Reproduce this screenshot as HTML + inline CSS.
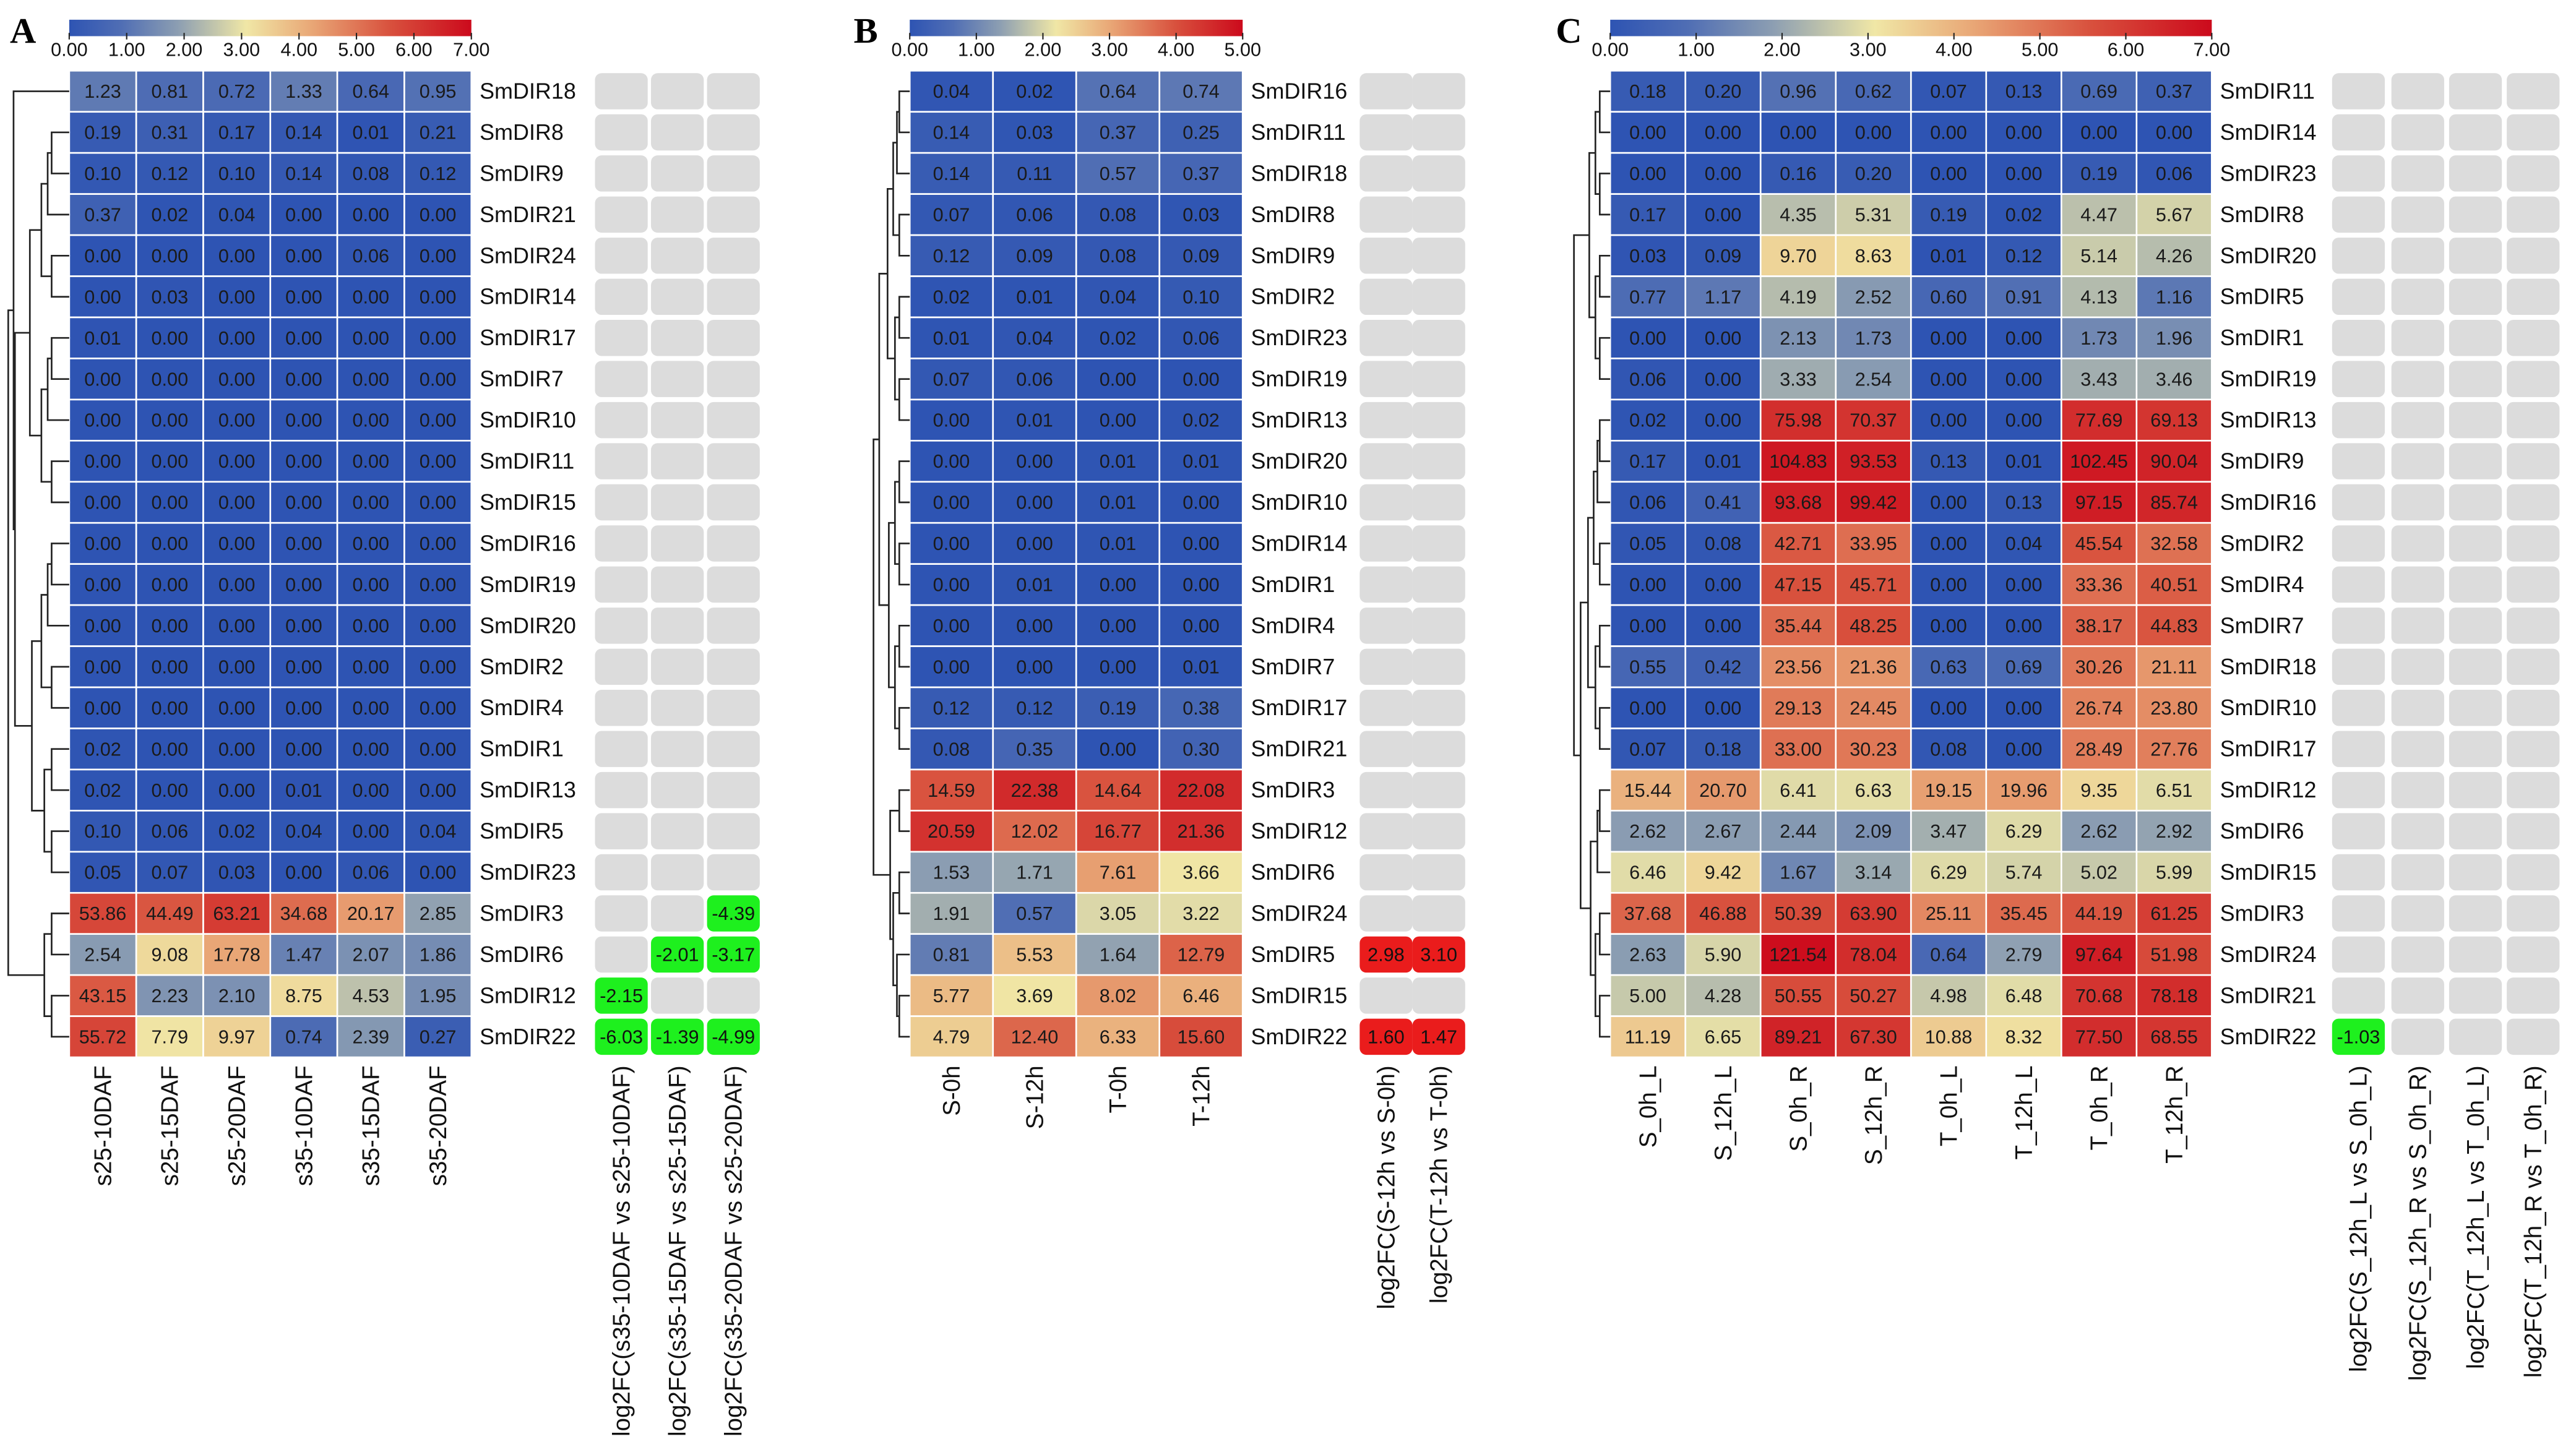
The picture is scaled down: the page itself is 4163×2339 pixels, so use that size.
<!DOCTYPE html>
<html><head><meta charset="utf-8"><style>
html,body{margin:0;padding:0;background:#fff;}
svg{display:block;font-family:"Liberation Sans",Arial,sans-serif;}
</style></head><body>
<svg id="fig" xmlns="http://www.w3.org/2000/svg" width="4163" height="2339" viewBox="0 0 1563 880" preserveAspectRatio="none">
<defs></defs>
</svg>
<script>
// ---------- Panel A data ----------
const genesA=["SmDIR18","SmDIR8","SmDIR9","SmDIR21","SmDIR24","SmDIR14","SmDIR17","SmDIR7","SmDIR10","SmDIR11","SmDIR15","SmDIR16","SmDIR19","SmDIR20","SmDIR2","SmDIR4","SmDIR1","SmDIR13","SmDIR5","SmDIR23","SmDIR3","SmDIR6","SmDIR12","SmDIR22"];
const colsA=["s25-10DAF","s25-15DAF","s25-20DAF","s35-10DAF","s35-15DAF","s35-20DAF"];
const valsA=[
[1.23,0.81,0.72,1.33,0.64,0.95],[0.19,0.31,0.17,0.14,0.01,0.21],[0.10,0.12,0.10,0.14,0.08,0.12],[0.37,0.02,0.04,0,0,0],
[0,0,0,0,0.06,0],[0,0.03,0,0,0,0],[0.01,0,0,0,0,0],[0,0,0,0,0,0],[0,0,0,0,0,0],[0,0,0,0,0,0],[0,0,0,0,0,0],[0,0,0,0,0,0],
[0,0,0,0,0,0],[0,0,0,0,0,0],[0,0,0,0,0,0],[0,0,0,0,0,0],[0.02,0,0,0,0,0],[0.02,0,0,0.01,0,0],[0.10,0.06,0.02,0.04,0,0.04],
[0.05,0.07,0.03,0,0.06,0],[53.86,44.49,63.21,34.68,20.17,2.85],[2.54,9.08,17.78,1.47,2.07,1.86],[43.15,2.23,2.10,8.75,4.53,1.95],[55.72,7.79,9.97,0.74,2.39,0.27]];
const fcColsA=["log2FC(s35-10DAF vs s25-10DAF)","log2FC(s35-15DAF vs s25-15DAF)","log2FC(s35-20DAF vs s25-20DAF)"];
const fcA={20:[null,null,-4.39],21:[null,-2.01,-3.17],22:[-2.15,null,null],23:[-6.03,-1.39,-4.99]};
const ticksA=["0.00","1.00","2.00","3.00","4.00","5.00","6.00","7.00"];
// ---------- Panel B data ----------
const genesB=["SmDIR16","SmDIR11","SmDIR18","SmDIR8","SmDIR9","SmDIR2","SmDIR23","SmDIR19","SmDIR13","SmDIR20","SmDIR10","SmDIR14","SmDIR1","SmDIR4","SmDIR7","SmDIR17","SmDIR21","SmDIR3","SmDIR12","SmDIR6","SmDIR24","SmDIR5","SmDIR15","SmDIR22"];
const colsB=["S-0h","S-12h","T-0h","T-12h"];
const valsB=[[0.04,0.02,0.64,0.74],[0.14,0.03,0.37,0.25],[0.14,0.11,0.57,0.37],[0.07,0.06,0.08,0.03],[0.12,0.09,0.08,0.09],
[0.02,0.01,0.04,0.10],[0.01,0.04,0.02,0.06],[0.07,0.06,0,0],[0,0.01,0,0.02],[0,0,0.01,0.01],[0,0,0.01,0],[0,0,0.01,0],
[0,0.01,0,0],[0,0,0,0],[0,0,0,0.01],[0.12,0.12,0.19,0.38],[0.08,0.35,0,0.30],[14.59,22.38,14.64,22.08],[20.59,12.02,16.77,21.36],
[1.53,1.71,7.61,3.66],[1.91,0.57,3.05,3.22],[0.81,5.53,1.64,12.79],[5.77,3.69,8.02,6.46],[4.79,12.40,6.33,15.60]];
const fcColsB=["log2FC(S-12h vs S-0h)","log2FC(T-12h vs T-0h)"];
const fcB={21:[2.98,3.10],23:[1.60,1.47]};
const ticksB=["0.00","1.00","2.00","3.00","4.00","5.00"];
// ---------- Panel C data ----------
const genesC=["SmDIR11","SmDIR14","SmDIR23","SmDIR8","SmDIR20","SmDIR5","SmDIR1","SmDIR19","SmDIR13","SmDIR9","SmDIR16","SmDIR2","SmDIR4","SmDIR7","SmDIR18","SmDIR10","SmDIR17","SmDIR12","SmDIR6","SmDIR15","SmDIR3","SmDIR24","SmDIR21","SmDIR22"];
const colsC=["S_0h_L","S_12h_L","S_0h_R","S_12h_R","T_0h_L","T_12h_L","T_0h_R","T_12h_R"];
const valsC=[[0.18,0.20,0.96,0.62,0.07,0.13,0.69,0.37],[0,0,0,0,0,0,0,0],[0,0,0.16,0.20,0,0,0.19,0.06],
[0.17,0,4.35,5.31,0.19,0.02,4.47,5.67],[0.03,0.09,9.70,8.63,0.01,0.12,5.14,4.26],[0.77,1.17,4.19,2.52,0.60,0.91,4.13,1.16],
[0,0,2.13,1.73,0,0,1.73,1.96],[0.06,0,3.33,2.54,0,0,3.43,3.46],[0.02,0,75.98,70.37,0,0,77.69,69.13],
[0.17,0.01,104.83,93.53,0.13,0.01,102.45,90.04],[0.06,0.41,93.68,99.42,0,0.13,97.15,85.74],[0.05,0.08,42.71,33.95,0,0.04,45.54,32.58],
[0,0,47.15,45.71,0,0,33.36,40.51],[0,0,35.44,48.25,0,0,38.17,44.83],[0.55,0.42,23.56,21.36,0.63,0.69,30.26,21.11],
[0,0,29.13,24.45,0,0,26.74,23.80],[0.07,0.18,33.00,30.23,0.08,0,28.49,27.76],[15.44,20.70,6.41,6.63,19.15,19.96,9.35,6.51],
[2.62,2.67,2.44,2.09,3.47,6.29,2.62,2.92],[6.46,9.42,1.67,3.14,6.29,5.74,5.02,5.99],[37.68,46.88,50.39,63.90,25.11,35.45,44.19,61.25],
[2.63,5.90,121.54,78.04,0.64,2.79,97.64,51.98],[5.00,4.28,50.55,50.27,4.98,6.48,70.68,78.18],[11.19,6.65,89.21,67.30,10.88,8.32,77.50,68.55]];
const fcColsC=["log2FC(S_12h_L vs S_0h_L)","log2FC(S_12h_R vs S_0h_R)","log2FC(T_12h_L vs T_0h_L)","log2FC(T_12h_R vs T_0h_R)"];
const fcC={23:[-1.03,null,null,null]};
const ticksC=["0.00","1.00","2.00","3.00","4.00","5.00","6.00","7.00"];

const NS="http://www.w3.org/2000/svg";
const svg=document.getElementById('fig');
function mk(tag,attrs,parent){const e=document.createElementNS(NS,tag);for(const k in attrs)e.setAttribute(k,attrs[k]);(parent||svg).appendChild(e);return e;}
const stops=[[0,[46,84,179]],[0.13,[80,110,180]],[0.27,[140,158,178]],[0.44,[240,231,166]],[0.6,[233,168,119]],[0.8,[216,80,61]],[1,[204,10,28]]];
function cmap(t){t=Math.max(0,Math.min(1,t));for(let i=1;i<stops.length;i++){if(t<=stops[i][0]){const a=stops[i-1],b=stops[i];const f=(t-a[0])/(b[0]-a[0]);const c=a[1].map((v,j)=>Math.round(v+(b[1][j]-v)*f));return `rgb(${c[0]},${c[1]},${c[2]})`;}}return 'rgb(204,10,28)';}
function R(lo,hi){if(lo===hi)return lo;const m=Math.floor((lo+hi)/2);return [R(lo,m),R(m+1,hi)];}
const treeA=[[0,R(1,19)],[[20,21],[22,23]]];
const treeB=[R(0,16),[[17,18],[[19,20],[21,[22,23]]]]];
const treeC=[R(0,7),[R(8,16),[R(17,19),R(20,23)]]];
const Y0=43,RH=25;

function panel(o){
  const g=mk('g',{});
  
  
  const L=mk('text',{x:o.letterX,y:26,'font-size':22,'font-weight':'bold','font-family':'"Liberation Serif",serif'},g);
  L.textContent=o.letter;
  
  
  const gid='grad'+o.letter;
  const defs=svg.querySelector('defs');
  const lg=mk('linearGradient',{id:gid,x1:0,x2:1,y1:0,y2:0},defs);
  stops.forEach(s=>mk('stop',{offset:s[0],'stop-color':cmap(s[0])},lg));
  const cb=mk('rect',{x:o.x0,y:12,width:o.x1-o.x0,height:10,fill:`url(#${gid})`},g);
  
  
  o.ticks.forEach((t,i)=>{const x=o.x0+(o.x1-o.x0)*i/(o.ticks.length-1);
    mk('line',{x1:x,x2:x,y1:20,y2:24,stroke:'#222','stroke-width':0.8},g);
    const tx=mk('text',{x:x,y:34,'font-size':11.5,'text-anchor':'middle',fill:'#111'},g);tx.textContent=t;
    
    });
  const nc=o.cols.length,cw=(o.x1-o.x0)/nc,vmax=o.ticks.length-1;
  o.vals.forEach((row,r)=>{
    row.forEach((v,c)=>{
      const x=o.x0+c*cw,y=Y0+r*RH;
      const rc=mk('rect',{x:x,y:y,width:cw,height:RH,fill:cmap(Math.log2(v+1)/vmax),stroke:'#fff','stroke-width':1},g);
      
      
      const t=mk('text',{x:x+cw/2,y:y+RH/2+4,'font-size':11.5,'text-anchor':'middle',fill:'#1a1a1a'},g);
      t.textContent=v.toFixed(2);
      
      
    });
    const gl=mk('text',{x:o.x1+5,y:Y0+r*RH+RH/2+4.5,'font-size':13.5,fill:'#111'},g);
    gl.textContent=o.genes[r];
    
    
    o.fcX.forEach((fx,k)=>{
      const fv=(o.fc[r]||[])[k];
      const has=fv!==null&&fv!==undefined;
      const b=mk('rect',{x:fx-16,y:Y0+r*RH+1.5,width:32,height:RH-3,rx:4,fill:has?(fv<0?'#1ef01e':'#ea1c1c'):'#dcdcdc'},g);
      
      
      if(has){const t=mk('text',{x:fx,y:Y0+r*RH+RH/2+4,'font-size':11.5,'text-anchor':'middle',fill:'#111'},g);t.textContent=fv.toFixed(2);
        
        }
    });
  });
  o.cols.forEach((c,i)=>{const x=o.x0+cw*i+cw/2;
    const t=mk('text',{transform:`translate(${x+5},648) rotate(-90)`,'font-size':14.5,'text-anchor':'end',fill:'#111'},g);t.textContent=c;
    
    });
  o.fcCols.forEach((c,i)=>{const x=o.fcX[i];
    const t=mk('text',{transform:`translate(${x+5},648) rotate(-90)`,'font-size':14.5,'text-anchor':'end',fill:'#111'},g);t.textContent=c;
    
    });
  const dw=o.x0-o.dl;
  function cnt(n){return Array.isArray(n)?cnt(n[0])+cnt(n[1]):1;}
  const rootH=Math.sqrt(cnt(o.tree));
  let d='';
  function draw(n){
    if(!Array.isArray(n))return [Y0+n*RH+RH/2,o.x0];
    const a=draw(n[0]),b=draw(n[1]);
    const x=o.x0-dw*Math.sqrt(cnt(n))/rootH;
    d+=`M${a[1]},${a[0]}H${x}V${b[0]}H${b[1]}`;
    return [(a[0]+b[0])/2,x];
  }
  draw(o.tree);
  const p=mk('path',{d:d,fill:'none',stroke:'#222','stroke-width':1},g);
  
  
}
panel({letter:'A',letterX:6,x0:42,x1:286,dl:5,genes:genesA,cols:colsA,vals:valsA,fc:fcA,fcCols:fcColsA,fcX:[377,411,445],ticks:ticksA,tree:treeA});
panel({letter:'B',letterX:518,x0:552,x1:754,dl:530,genes:genesB,cols:colsB,vals:valsB,fc:fcB,fcCols:fcColsB,fcX:[841,873],ticks:ticksB,tree:treeB});
panel({letter:'C',letterX:944,x0:977,x1:1342,dl:955,genes:genesC,cols:colsC,vals:valsC,fc:fcC,fcCols:fcColsC,fcX:[1431,1467,1502,1537],ticks:ticksC,tree:treeC});
</script>
</body></html>
